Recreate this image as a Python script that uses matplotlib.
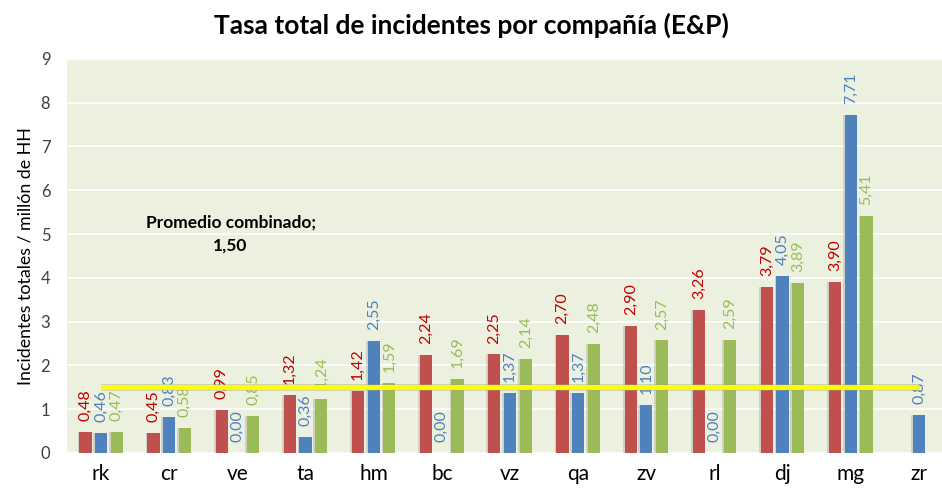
import numpy as np
import matplotlib.pyplot as plt

companias = ["rk", "cr", "ve", "ta", "hm", "bc", "vz", "qa", "zv", "rl", "dj", "mg", "zr"]
serie_roja = [0.48, 0.45, 0.99, 1.32, 1.42, 2.24, 2.25, 2.70, 2.90, 3.26, 3.79, 3.90, np.nan]
serie_azul = [0.46, 0.83, 0.00, 0.36, 2.55, 0.00, 1.37, 1.37, 1.10, 0.00, 4.05, 7.71, 0.87]
serie_verde = [0.47, 0.58, 0.85, 1.24, 1.59, 1.69, 2.14, 2.48, 2.57, 2.59, 3.89, 5.41, np.nan]
promedio = 1.50

plt.rcParams['font.family'] = ['Lato', 'DejaVu Sans']

fig = plt.figure(figsize=(9.42, 4.91), dpi=100)
# the plot area runs past the right edge of the picture
ax = fig.add_axes([0.0711, 0.0774, 0.9406, 0.8026])
ax.set_facecolor("#EBF1DE")

x = np.arange(len(companias))
w = 0.18
d = 0.23
series = [
    (serie_roja, -d, "#C0504D", "#C00000"),
    (serie_azul, 0, "#4F81BD", "#4F81BD"),
    (serie_verde, d, "#9BBB59", "#9BBB59"),
]
for vals, off, col, tcol in series:
    vals = np.array(vals, dtype=float)
    ok = ~np.isnan(vals)
    # sombra
    ax.bar(x[ok] + off - 0.025, vals[ok], w, color="#9a9a9a", alpha=0.35, zorder=1)
    ax.bar(x[ok] + off, vals[ok], w, color=col, zorder=2)
    for xi, v in zip(x[ok] + off, vals[ok]):
        ax.text(xi, v + 0.25, f"{v:.2f}".replace(".", ","), rotation=90,
                ha="center", va="bottom", color=tcol, fontsize=11.5, zorder=3)

ax.plot([x[0], x[-1]], [promedio, promedio], color="#a0a080", lw=5, alpha=0.4,
        zorder=4, solid_capstyle="butt")
ax.plot([x[0], x[-1]], [promedio, promedio], color="#FFFF00", lw=3.5, zorder=5,
        solid_capstyle="butt")
ax.text(x[2] - 0.1, 5.27, "Promedio combinado;", ha="center", va="center",
        fontsize=12.5, fontweight="bold")
ax.text(x[2] - 0.1, 4.73, f"{promedio:.2f}".replace(".", ","), ha="center",
        va="center", fontsize=12.5, fontweight="bold")

ax.set_xlim(-0.5, len(companias) - 0.5)
ax.set_ylim(0, 9)
ax.set_yticks(range(0, 10))
ax.yaxis.grid(True, color="white", lw=1.2)
ax.set_axisbelow(True)
for s in ax.spines.values():
    s.set_visible(False)
ax.tick_params(length=0)
ax.tick_params(axis="y", labelsize=12, pad=12, colors="#404040")
ax.set_xticks(x)
ax.set_xticklabels(companias, fontsize=15)
ax.tick_params(axis="x", pad=8)
ax.set_ylabel("Incidentes totales / millón de HH", fontsize=12.8, labelpad=5)
fig.suptitle("Tasa total de incidentes por compañía (E&P)", fontsize=19,
             fontweight="bold", y=0.975)

fig.savefig("out.png", dpi=100)
